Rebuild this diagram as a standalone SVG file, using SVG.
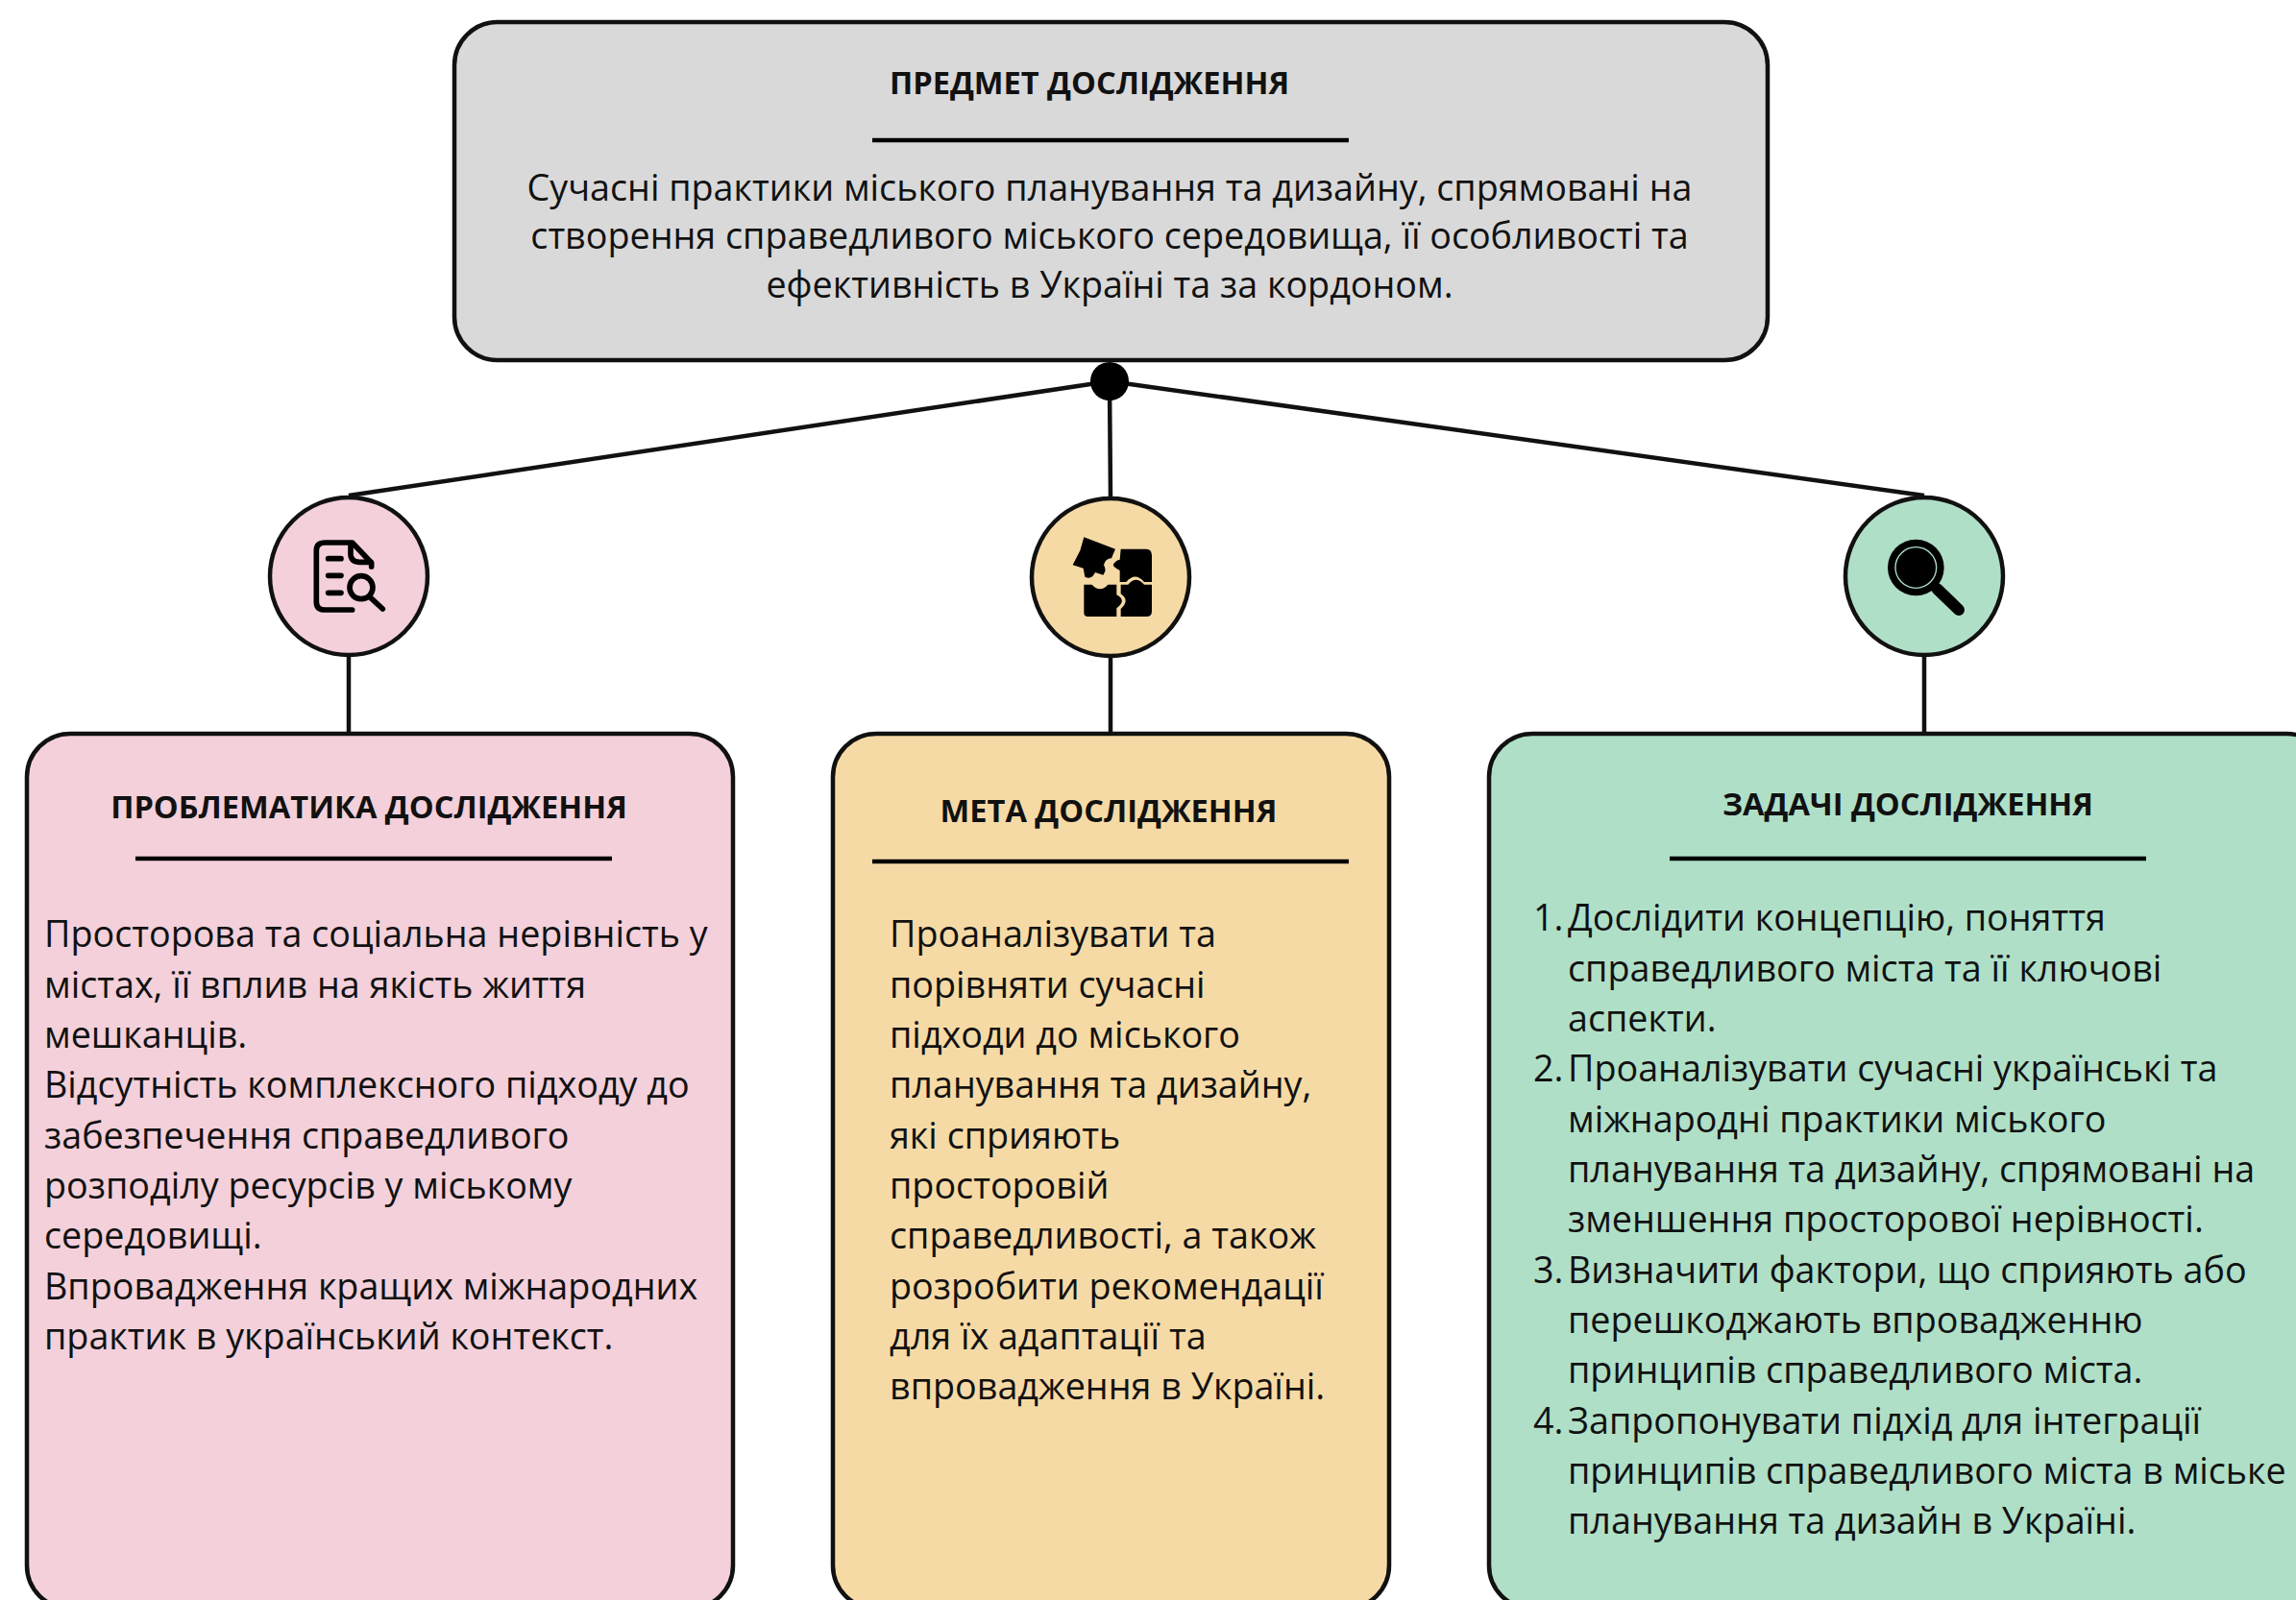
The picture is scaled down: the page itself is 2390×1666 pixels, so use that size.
<svg xmlns="http://www.w3.org/2000/svg" width="2390" height="1666" viewBox="0 0 2390 1666">
<style>
text{font-family:"Open Sans","Noto Sans",sans-serif;fill:#111}
.t{font-size:32.6px;font-weight:700;text-anchor:middle}
.b{font-size:37.7px}
.c{text-anchor:middle}
.box{stroke:#111;stroke-width:4.5}
.rule{stroke:#000;stroke-width:4.5;fill:none}
.con{stroke:#111;stroke-width:4.5;fill:none}
.ic{fill:none;stroke:#000;stroke-width:17;stroke-linecap:round;stroke-linejoin:round}
</style>
<g id="connectors">
<path class="con" d="M1155 397L363 516M1155 397L1156 518M1155 397L2003 516M363 682V764M1156 684V764M2003 682V764"/>
<circle cx="1155" cy="397" r="20" fill="#000"/>
</g>
<g id="subject">
<rect class="box" x="473" y="23" width="1367" height="352" rx="45" fill="#d9d9d9"/>
<text class="t" x="1134" y="98">ПРЕДМЕТ ДОСЛІДЖЕННЯ</text>
<path class="rule" d="M908 146H1404"/>
<text class="b c" x="1155" y="209">Сучасні практики міського планування та дизайну, спрямовані на</text>
<text class="b c" x="1155" y="259">створення справедливого міського середовища, її особливості та</text>
<text class="b c" x="1155" y="310">ефективність в Україні та за кордоном.</text>
</g>
<g id="icon-problem">
<circle class="box" cx="363" cy="600" r="82" fill="#f3d0da"/>
<g transform="translate(270 510) scale(.3333)">
<path class="ic" d="M290 375H205Q178 375 178 350V190Q178 165 205 165H290L350 228V240"/>
<path class="ic" d="M285 172V200Q285 224 312 226H348M215 215H255M215 268H255M215 322H255M345 335L385 372"/>
<circle class="ic" cx="318" cy="305" r="36"/>
</g>
</g>
<g id="icon-goal">
<circle class="box" cx="1156" cy="601" r="82" fill="#f6daa5"/>
<g transform="translate(1065 510) scale(.3333)">
<path d="M190 148L288 185L276 214Q256 215 252 235Q262 252 250 266L225 258Q215 282 193 272L188 245L155 235L178 190Z"/>
<path d="M305 185H385Q402 185 402 205V288H378Q350 255 322 288H302V252Q278 240 282 232Q290 220 302 218Z"/>
<path d="M190 296H215Q240 324 265 296H292V328Q325 345 292 370V396H202Q190 396 190 384Z"/>
<path d="M305 296H328Q352 266 378 296H402V380Q402 396 385 396H305V372Q335 345 305 325Z"/>
</g>
</g>
<g id="icon-tasks">
<circle class="box" cx="2003" cy="600" r="82" fill="#b0dfc8"/>
<g transform="translate(1915 510) scale(.3333)">
<circle cx="238" cy="243" r="88"/>
<circle cx="238" cy="243" r="64" fill="none" stroke="#b0dfc8" stroke-width="4"/>
<path d="M305 310L372 375" stroke="#000" stroke-width="36" stroke-linecap="round"/>
</g>
</g>
<g id="problem">
<rect class="box" x="28" y="764" width="735" height="911" rx="45" fill="#f3d0da"/>
<text class="t" x="384" y="852">ПРОБЛЕМАТИКА ДОСЛІДЖЕННЯ</text>
<path class="rule" d="M141 894H637"/>
<text class="b" x="46" y="986">Просторова та соціальна нерівність у</text>
<text class="b" x="46" y="1039">містах, її вплив на якість життя</text>
<text class="b" x="46" y="1091">мешканців.</text>
<text class="b" x="46" y="1143">Відсутність комплексного підходу до</text>
<text class="b" x="46" y="1196">забезпечення справедливого</text>
<text class="b" x="46" y="1248">розподілу ресурсів у міському</text>
<text class="b" x="46" y="1300">середовищі.</text>
<text class="b" x="46" y="1353">Впровадження кращих міжнародних</text>
<text class="b" x="46" y="1405">практик в український контекст.</text>
</g>
<g id="goal">
<rect class="box" x="867" y="764" width="579" height="911" rx="45" fill="#f6daa5"/>
<text class="t" x="1154" y="856">МЕТА ДОСЛІДЖЕННЯ</text>
<path class="rule" d="M908 897H1404"/>
<text class="b" x="926" y="986">Проаналізувати та</text>
<text class="b" x="926" y="1039">порівняти сучасні</text>
<text class="b" x="926" y="1091">підходи до міського</text>
<text class="b" x="926" y="1143">планування та дизайну,</text>
<text class="b" x="926" y="1196">які сприяють</text>
<text class="b" x="926" y="1248">просторовій</text>
<text class="b" x="926" y="1300">справедливості, а також</text>
<text class="b" x="926" y="1353">розробити рекомендації</text>
<text class="b" x="926" y="1405">для їх адаптації та</text>
<text class="b" x="926" y="1457">впровадження в Україні.</text>
</g>
<g id="tasks">
<rect class="box" x="1550" y="764" width="875" height="911" rx="45" fill="#b0dfc8"/>
<text class="t" x="1986" y="849">ЗАДАЧІ ДОСЛІДЖЕННЯ</text>
<path class="rule" d="M1738 894H2234"/>
<text class="b" x="1596" y="969">1.</text>
<text class="b" x="1632" y="969">Дослідити концепцію, поняття</text>
<text class="b" x="1632" y="1022">справедливого міста та її ключові</text>
<text class="b" x="1632" y="1074">аспекти.</text>
<text class="b" x="1596" y="1126">2.</text>
<text class="b" x="1632" y="1126">Проаналізувати сучасні українські та</text>
<text class="b" x="1632" y="1179">міжнародні практики міського</text>
<text class="b" x="1632" y="1231">планування та дизайну, спрямовані на</text>
<text class="b" x="1632" y="1283">зменшення просторової нерівності.</text>
<text class="b" x="1596" y="1336">3.</text>
<text class="b" x="1632" y="1336">Визначити фактори, що сприяють або</text>
<text class="b" x="1632" y="1388">перешкоджають впровадженню</text>
<text class="b" x="1632" y="1440">принципів справедливого міста.</text>
<text class="b" x="1596" y="1493">4.</text>
<text class="b" x="1632" y="1493">Запропонувати підхід для інтеграції</text>
<text class="b" x="1632" y="1545">принципів справедливого міста в міське</text>
<text class="b" x="1632" y="1597">планування та дизайн в Україні.</text>
</g>
</svg>
